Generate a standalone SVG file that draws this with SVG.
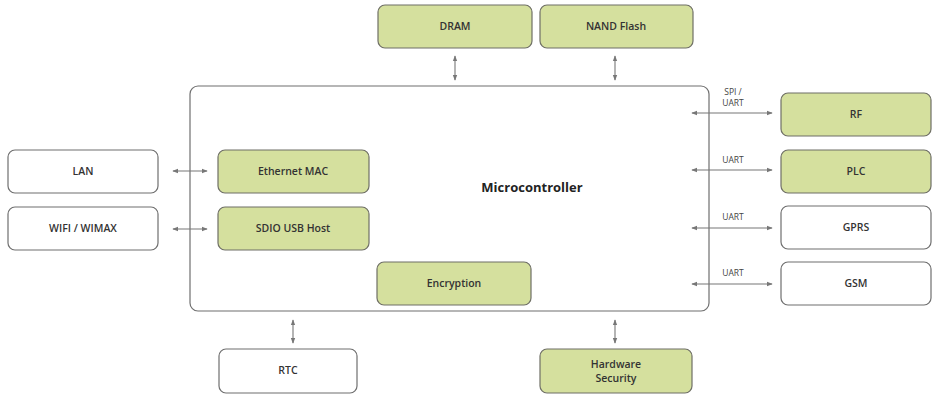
<svg xmlns="http://www.w3.org/2000/svg" width="934" height="397" viewBox="0 0 934 397">
<style>
.g{fill:#d5e09e;stroke:#6f6f66;stroke-width:1.2}
.w{fill:#ffffff;stroke:#6f6f6f;stroke-width:1.2}
.t{font-family:"Open Sans","Liberation Sans",sans-serif;font-size:10.5px;fill:#333;text-anchor:middle;font-weight:600}
.l{font-family:"Open Sans","Liberation Sans",sans-serif;font-size:8.5px;fill:#444;text-anchor:middle}
.c{stroke:#777;stroke-width:1.1;fill:none;marker-start:url(#a);marker-end:url(#a)}
</style>
<defs>
<marker id="a" viewBox="0 0 8 8" refX="7" refY="4" markerWidth="6" markerHeight="6" orient="auto-start-reverse" markerUnits="userSpaceOnUse">
<path d="M0,1 L8,4 L0,7 z" fill="#777"/>
</marker>
</defs>
<rect width="934" height="397" fill="#fff"/>
<g id="mcu"><rect x="190" y="86" width="519" height="225" rx="8" class="w"/>
<text x="532" y="192" class="t" style="font-size:13px;font-weight:700;fill:#222">Microcontroller</text></g>
<g id="dram"><rect x="378" y="5" width="154" height="43" rx="7" class="g"/><text x="455" y="30" class="t">DRAM</text></g>
<g id="nand"><rect x="540" y="5" width="153" height="43" rx="7" class="g"/><text x="616" y="30" class="t">NAND Flash</text></g>
<g id="rf"><rect x="781" y="93" width="150" height="43" rx="7" class="g"/><text x="856" y="118" class="t">RF</text></g>
<g id="plc"><rect x="781" y="150" width="150" height="43" rx="7" class="g"/><text x="856" y="175" class="t">PLC</text></g>
<g id="gprs"><rect x="781" y="206" width="150" height="43" rx="7" class="w"/><text x="856" y="231" class="t">GPRS</text></g>
<g id="gsm"><rect x="781" y="262" width="150" height="43" rx="7" class="w"/><text x="856" y="287" class="t">GSM</text></g>
<g id="lan"><rect x="8" y="150" width="150" height="43" rx="7" class="w"/><text x="83" y="175" class="t">LAN</text></g>
<g id="wifi"><rect x="8" y="207" width="150" height="43" rx="7" class="w"/><text x="83" y="232" class="t">WIFI / WIMAX</text></g>
<g id="eth"><rect x="218" y="150" width="151" height="43" rx="7" class="g"/><text x="293" y="175" class="t">Ethernet MAC</text></g>
<g id="sdio"><rect x="218" y="207" width="151" height="43" rx="7" class="g"/><text x="293" y="232" class="t">SDIO USB Host</text></g>
<g id="enc"><rect x="377" y="262" width="154" height="43" rx="7" class="g"/><text x="454" y="287" class="t">Encryption</text></g>
<g id="rtc"><rect x="219" y="349" width="138" height="44" rx="7" class="w"/><text x="288" y="374" class="t">RTC</text></g>
<g id="hws"><rect x="540" y="349" width="152" height="44" rx="7" class="g"/><text x="616" y="368" class="t">Hardware</text><text x="616" y="382" class="t">Security</text></g>
<g id="connectors">
<line x1="455" y1="56" x2="455" y2="80" class="c"/>
<line x1="615" y1="56" x2="615" y2="80" class="c"/>
<line x1="692" y1="113" x2="772" y2="113" class="c"/>
<line x1="692" y1="170" x2="772" y2="170" class="c"/>
<line x1="692" y1="228" x2="772" y2="228" class="c"/>
<line x1="692" y1="284" x2="772" y2="284" class="c"/>
<line x1="173" y1="171" x2="207" y2="171" class="c"/>
<line x1="173" y1="229" x2="207" y2="229" class="c"/>
<line x1="293" y1="320" x2="293" y2="343" class="c"/>
<line x1="615" y1="320" x2="615" y2="343" class="c"/>
<text x="733" y="95" class="l">SPI /</text>
<text x="733" y="106" class="l">UART</text>
<text x="733" y="163" class="l">UART</text>
<text x="733" y="220" class="l">UART</text>
<text x="733" y="276" class="l">UART</text>
</g>
</svg>
